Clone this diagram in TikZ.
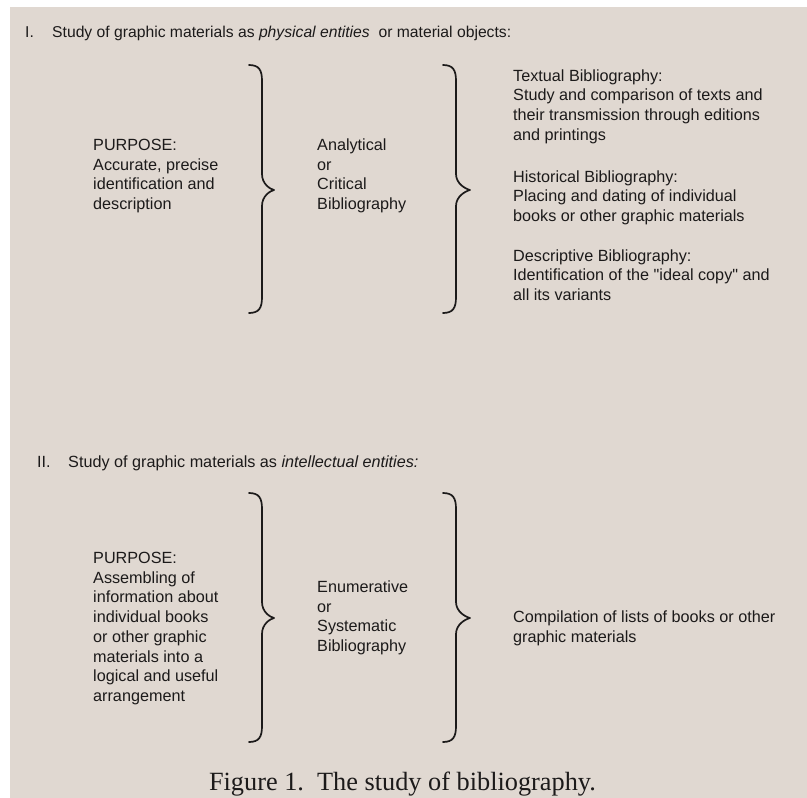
\documentclass[tikz,border=0pt]{standalone}
\usepackage{fontspec}
\setmainfont{Liberation Serif}
\setsansfont{Liberation Sans}[Ligatures=TeXOff]
\usepackage{xcolor}
\usetikzlibrary{positioning}
\definecolor{paper}{RGB}{224,216,209}
\definecolor{ink}{RGB}{28,26,26}

\begin{document}
\begin{tikzpicture}[x=1pt,y=-1pt,
      txt/.style={font=\sffamily\fontsize{16.2}{19.7}\selectfont, text=ink,
        inner sep=0pt, align=left, anchor=base west},
      bracket/.style={draw=ink, line width=1.7pt, line cap=round, line join=round}]
    \useasboundingbox (0,0) rectangle (807,798);
    \fill[paper] (10,7) rectangle (807,798);
    \node[txt, font=\sffamily\fontsize{15.7}{19.7}\selectfont] (headI) at (25,37) {\makebox[27pt][l]{I.}Study of graphic materials as \textit{physical entities}\ \ or material objects:};
    \node[txt] (purposeI) at (93,209.6) {PURPOSE:\\Accurate, precise\\identification and\\description};
    \node[txt] (analytical) at (317,209.6) {Analytical\\or\\Critical\\Bibliography};
    \node[txt] (textual) at (513,140.1) {Textual Bibliography:\\Study and comparison of texts and\\their transmission through editions\\and printings};
    \node[txt] (historical) at (513,221.4) {Historical Bibliography:\\Placing and dating of individual\\books or other graphic materials};
    \node[txt] (descriptive) at (513,300.4) {Descriptive Bibliography:\\Identification of the "ideal copy" and\\all its variants};
    \node[txt] (headII) at (37,467.5) {\makebox[31pt][l]{II.}Study of graphic materials as \textit{intellectual entities:}};
    \node[txt] (purposeII) at (93,701.4) {PURPOSE:\\Assembling of\\information about\\individual books\\or other graphic\\materials into a\\logical and useful\\arrangement};
    \node[txt] (enumerative) at (317,651.6) {Enumerative\\or\\Systematic\\Bibliography};
    \node[txt] (compilation) at (513,642.2) {Compilation of lists of books or other\\graphic materials};
    \node[font=\rmfamily\fontsize{26.3}{30}\selectfont, text=ink, inner sep=0pt, anchor=base] (caption) at (402.5,790) {Figure 1.\ \ The study of bibliography.};
    \foreach \xa/\xb/\xc in {249/262/274, 443/456/470}
      \foreach \yt/\ym/\yb in {65/190/313, 493/618/742}
        \draw[bracket] (\xa,\yt) .. controls (\xb-3,\yt) and (\xb,\yt+5) .. (\xb,\yt+16)
          -- (\xb,\ym-16) .. controls (\xb,\ym-6) and (\xc-4,\ym-1) .. (\xc,\ym)
          .. controls (\xc-4,\ym+1) and (\xb,\ym+6) .. (\xb,\ym+16)
          -- (\xb,\yb-16) .. controls (\xb,\yb-5) and (\xb-3,\yb) .. (\xa,\yb);
\end{tikzpicture}
\end{document}
